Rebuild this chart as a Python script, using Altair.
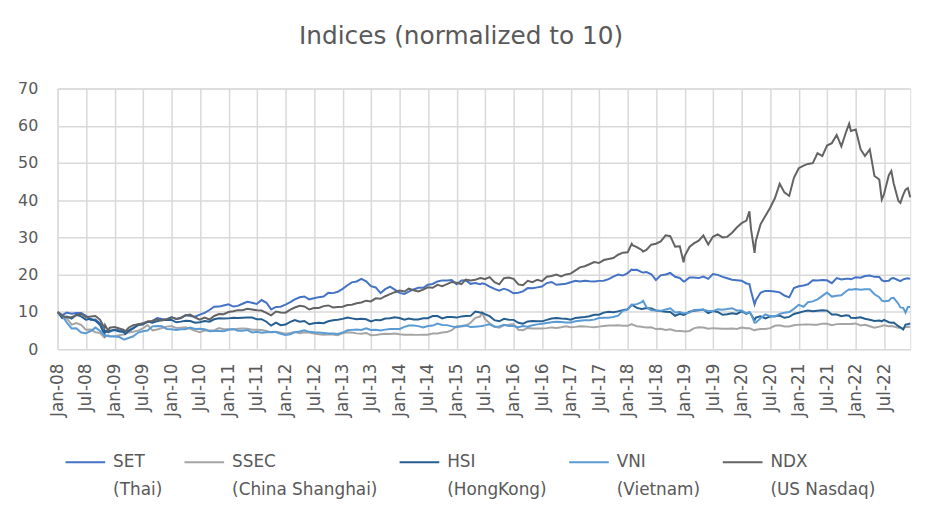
import altair as alt
import pandas as pd

# ---------------- data ----------------
series_names = ["SET|(Thai)", "SSEC|(China Shanghai)", "HSI|(HongKong)", "VNI|(Vietnam)", "NDX|(US Nasdaq)"]
series_colors = ["#4472C4", "#A5A5A5", "#255E91", "#5B9BD5", "#636363"]

month_ends = [d.strftime("%Y-%m-%d") for d in
              (pd.date_range("2008-02-01", "2022-12-01", freq="MS") - pd.Timedelta(days=1))]
dates = ["2008-01-01"] + month_ends + ["2022-12-15"]

SET = [10.0,
       9.14, 9.85, 9.52, 9.70, 9.72, 8.96, 7.88, 7.98, 6.95, 4.85, 4.67, 5.24,
       5.10, 5.03, 5.03, 5.73, 6.53, 6.96, 7.27, 7.61, 8.36, 8.12, 7.96, 8.56,
       8.12, 8.33, 9.18, 8.90, 8.75, 9.29, 9.77, 10.53, 11.43, 11.44, 11.75, 12.04,
       11.45, 11.63, 12.21, 12.74, 12.47, 12.14, 13.21, 12.47, 10.68, 11.36, 11.42, 11.95,
       12.62, 13.39, 13.95, 14.16, 13.37, 13.66, 13.98, 14.17, 15.13, 15.06, 15.43, 16.22,
       17.18, 17.96, 18.19, 18.90, 18.20, 16.92, 16.59, 15.08, 16.12, 16.82, 15.99, 15.13,
       14.85, 15.44, 16.04, 16.49, 16.50, 17.32, 17.51, 18.20, 18.48, 18.46, 18.58, 17.45,
       18.43, 18.49, 17.55, 17.79, 17.44, 17.53, 16.78, 16.18, 15.72, 16.25, 15.80, 15.01,
       15.16, 15.53, 16.41, 16.36, 16.60, 16.84, 17.76, 18.04, 17.29, 17.43, 17.59, 17.98,
       18.38, 18.18, 18.36, 18.25, 18.20, 18.35, 18.37, 18.83, 19.50, 20.06, 19.78, 20.44,
       21.29, 21.33, 20.70, 20.75, 20.13, 18.60, 19.83, 20.06, 20.47, 19.45, 19.13, 18.23,
       19.27, 19.27, 19.10, 19.50, 18.88, 20.17, 19.96, 19.43, 19.07, 18.66, 18.54, 18.41,
       17.65, 15.62, 13.12, 15.17, 15.65, 15.60, 15.48, 15.27, 14.42, 13.93, 16.41, 16.89,
       17.09, 17.44, 18.50, 18.45, 18.57, 18.50, 17.74, 19.10, 18.71, 18.92, 18.77, 19.32,
       19.22, 19.64, 19.76, 19.43, 19.39, 18.28, 18.37, 19.10, 18.52, 18.76, 19.06, 18.88]

SSEC = [10.0,
        8.33, 8.26, 6.60, 7.02, 6.52, 5.20, 5.27, 4.56, 4.36, 3.29, 3.56, 3.46,
        3.78, 3.96, 4.51, 4.71, 5.00, 5.62, 6.49, 5.07, 5.28, 5.69, 6.07, 6.23,
        5.68, 5.80, 5.91, 5.46, 4.93, 4.56, 5.01, 5.02, 5.05, 5.66, 5.36, 5.34,
        5.30, 5.52, 5.56, 5.53, 5.21, 5.25, 5.14, 4.88, 4.48, 4.69, 4.43, 4.18,
        4.36, 4.62, 4.30, 4.56, 4.51, 4.23, 4.00, 3.89, 3.96, 3.93, 3.76, 4.31,
        4.53, 4.50, 4.25, 4.14, 4.37, 3.76, 3.79, 3.99, 4.13, 4.07, 4.22, 4.02,
        3.86, 3.91, 3.86, 3.85, 3.88, 3.89, 4.19, 4.21, 4.49, 4.60, 5.10, 6.15,
        6.10, 6.29, 7.12, 8.44, 8.77, 8.13, 6.96, 6.09, 5.80, 6.43, 6.55, 6.73,
        5.20, 5.11, 5.71, 5.58, 5.54, 5.57, 5.66, 5.86, 5.71, 5.89, 6.18, 5.90,
        6.00, 6.16, 6.13, 6.00, 5.92, 6.07, 6.22, 6.39, 6.37, 6.45, 6.30, 6.29,
        6.62, 6.19, 6.02, 5.86, 5.88, 5.41, 5.47, 5.18, 5.36, 4.95, 4.92, 4.74,
        4.91, 5.59, 5.87, 5.85, 5.51, 5.66, 5.57, 5.49, 5.52, 5.57, 5.46, 5.80,
        5.66, 5.47, 5.23, 5.44, 5.42, 5.67, 6.29, 6.45, 6.12, 6.13, 6.45, 6.60,
        6.62, 6.67, 6.54, 6.55, 6.87, 6.82, 6.46, 6.74, 6.78, 6.74, 6.77, 6.92,
        6.39, 6.58, 6.18, 5.79, 6.06, 6.46, 6.18, 6.09, 5.75, 5.50, 5.99, 6.02]

HSI = [10.0,
       8.43, 8.75, 8.22, 9.26, 8.82, 7.95, 8.17, 7.64, 6.48, 5.02, 4.99, 5.17,
       4.77, 4.61, 4.88, 5.58, 6.53, 6.61, 7.40, 7.09, 7.53, 7.82, 7.85, 7.86,
       7.23, 7.41, 7.64, 7.59, 7.11, 7.24, 7.56, 7.38, 8.04, 8.30, 8.27, 8.28,
       8.43, 8.39, 8.46, 8.53, 8.52, 8.05, 8.07, 7.38, 6.33, 7.14, 6.47, 6.63,
       7.33, 7.80, 7.39, 7.58, 6.70, 6.99, 7.12, 7.00, 7.49, 7.78, 7.92, 8.15,
       8.53, 8.28, 8.02, 8.18, 8.05, 7.48, 7.87, 7.81, 8.22, 8.34, 8.59, 8.38,
       7.92, 8.21, 7.96, 7.96, 8.30, 8.34, 8.90, 8.90, 8.25, 8.63, 8.62, 8.49,
       8.81, 8.93, 8.95, 10.12, 9.86, 9.44, 8.86, 7.79, 7.50, 8.14, 7.91, 7.88,
       7.08, 6.87, 7.47, 7.57, 7.48, 7.48, 7.87, 8.26, 8.38, 8.25, 8.19, 7.91,
       8.40, 8.54, 8.67, 8.85, 9.23, 9.26, 9.82, 10.06, 9.91, 10.16, 10.49, 10.76,
       11.82, 11.09, 10.82, 11.08, 10.96, 10.41, 10.28, 10.03, 9.99, 8.98, 9.53, 9.29,
       10.05, 10.30, 10.45, 10.68, 9.67, 10.26, 9.99, 9.25, 9.38, 9.67, 9.47, 10.14,
       9.46, 9.40, 8.49, 8.86, 8.26, 8.78, 8.84, 9.05, 8.43, 8.67, 9.47, 9.79,
       10.17, 10.42, 10.20, 10.33, 10.48, 10.37, 9.33, 9.30, 8.84, 9.12, 8.44, 8.41,
       8.56, 8.17, 7.91, 7.58, 7.70, 7.86, 7.25, 7.17, 6.19, 5.28, 6.69, 6.96]

VNI = [10.0,
       9.10, 7.15, 5.57, 5.63, 4.47, 4.30, 4.86, 5.81, 4.92, 3.75, 3.39, 3.40,
       3.27, 2.64, 3.02, 3.47, 4.48, 4.83, 5.04, 6.14, 6.26, 6.17, 5.44, 5.34,
       5.19, 5.36, 5.38, 5.85, 5.45, 5.47, 5.35, 4.81, 4.91, 4.89, 4.85, 5.23,
       5.45, 4.97, 4.98, 5.18, 4.49, 4.67, 4.42, 4.55, 4.61, 4.62, 4.15, 3.79,
       4.02, 4.57, 4.77, 5.11, 4.67, 4.55, 4.51, 4.36, 4.23, 4.19, 4.10, 4.47,
       5.08, 5.19, 5.30, 5.15, 5.63, 5.19, 5.25, 5.06, 5.26, 5.43, 5.44, 5.45,
       6.00, 6.34, 6.35, 6.20, 5.86, 6.23, 6.34, 6.87, 6.50, 6.47, 6.13, 5.89,
       6.21, 6.40, 5.94, 6.06, 6.14, 6.40, 6.68, 6.06, 6.13, 6.56, 6.22, 6.25,
       5.88, 6.20, 6.05, 6.43, 6.67, 6.82, 7.04, 7.26, 7.40, 7.28, 7.17, 7.17,
       7.51, 7.67, 7.79, 7.75, 7.95, 8.38, 8.46, 8.45, 8.67, 9.03, 10.30, 10.61,
       11.97, 12.10, 12.66, 11.33, 10.47, 10.36, 10.30, 10.67, 10.97, 9.86, 9.99, 9.63,
       9.82, 10.56, 10.58, 10.57, 10.26, 10.24, 10.72, 10.61, 10.79, 11.02, 10.40, 10.37,
       9.61, 9.49, 7.14, 8.30, 9.33, 8.90, 8.77, 9.49, 9.77, 9.98, 10.83, 11.91,
       11.39, 12.61, 12.85, 13.37, 14.33, 15.20, 14.13, 14.37, 14.48, 15.58, 15.94, 16.16,
       15.94, 16.07, 16.09, 14.75, 13.95, 12.91, 13.01, 13.81, 12.21, 11.11, 11.32, 11.31]

NDX = [10.0,
       9.01, 8.56, 8.59, 9.10, 9.51, 8.65, 8.77, 8.93, 7.89, 6.49, 5.79, 5.95,
       5.57, 5.19, 5.77, 6.47, 6.69, 6.92, 7.46, 7.58, 8.00, 7.71, 8.09, 8.56,
       8.10, 8.44, 9.04, 9.28, 8.51, 7.95, 8.50, 7.97, 8.93, 9.45, 9.42, 10.00,
       10.18, 10.49, 10.49, 10.84, 10.69, 10.46, 10.39, 9.73, 9.11, 10.12, 9.88, 9.82,
       10.61, 11.19, 11.66, 11.49, 10.66, 11.07, 11.09, 11.57, 11.75, 11.23, 11.35, 11.39,
       11.85, 11.92, 12.32, 12.55, 13.03, 12.83, 13.67, 13.54, 14.22, 14.78, 15.31, 15.75,
       15.48, 16.25, 15.83, 15.52, 16.00, 16.62, 16.48, 17.27, 16.94, 17.46, 18.07, 17.86,
       17.48, 18.72, 18.48, 18.63, 19.12, 18.81, 19.34, 18.01, 17.42, 19.06, 19.27, 18.88,
       17.40, 17.19, 18.36, 18.01, 18.66, 18.26, 19.47, 19.66, 20.03, 19.57, 20.08, 20.30,
       21.17, 21.97, 22.29, 22.81, 23.38, 23.15, 23.94, 24.24, 24.50, 25.37, 25.92, 26.03,
       27.95, 27.43, 26.63, 26.65, 28.06, 28.32, 28.93, 30.58, 30.34, 27.55, 27.64, 25.02,
       27.46, 28.41, 29.15, 30.53, 28.10, 30.19, 30.83, 30.03, 30.16, 31.27, 32.68, 33.84,
       34.51, 32.31, 29.04, 33.52, 35.79, 37.93, 40.52, 44.40, 42.11, 41.15, 46.00, 48.60,
       49.29, 49.75, 49.95, 52.65, 51.85, 54.69, 55.33, 57.54, 54.48, 58.44, 58.59, 59.00,
       53.70, 51.86, 53.63, 46.52, 45.56, 41.59, 46.73, 44.56, 39.88, 41.44, 43.25, 40.77]

# intra-month highs / lows visible in the reference
extra_dates = ["2008-10-27", "2008-11-20", "2009-03-09", "2015-06-12", "2018-01-26",
               "2018-04-09", "2018-12-24", "2020-02-19", "2020-03-23", "2021-11-19",
               "2022-06-16", "2022-08-16", "2022-10-13", "2022-11-15"]
SET_extra = [4.51, 4.55, 4.87, 17.70, 21.42, 20.63, 18.18, 17.50, 12.04, 18.91, 18.53, 19.00, 18.30, 18.93]
SSEC_extra = [3.16, 3.71, 4.08, 9.82, 6.76, 5.96, 4.80, 5.65, 5.06, 6.77, 6.24, 6.23, 5.75, 5.96]
HSI_extra = [3.96, 4.61, 4.08, 9.81, 11.92, 10.87, 9.22, 9.94, 7.80, 9.01, 7.49, 7.13, 5.89, 6.60]
VNI_extra = [3.72, 3.56, 2.70, 6.26, 11.87, 12.99, 9.63, 9.98, 7.11, 16.07, 13.05, 13.72, 11.22, 9.83]
NDX_extra = [5.68, 4.96, 4.78, 19.05, 28.30, 26.21, 23.35, 37.02, 25.87, 60.55, 40.15, 47.87, 39.28, 42.83]

# ---------------- build long table ----------------
monthly = [SET, SSEC, HSI, VNI, NDX]
extras = [SET_extra, SSEC_extra, HSI_extra, VNI_extra, NDX_extra]
rows = []
for idx, (name, vals, ext) in enumerate(zip(series_names, monthly, extras)):
    for d, v in zip(dates, vals):
        rows.append({"date": d, "value": v, "series": name, "k": idx})
    for d, v in zip(extra_dates, ext):
        rows.append({"date": d, "value": v, "series": name, "k": idx})
df = pd.DataFrame(rows).sort_values(["k", "date"]).reset_index(drop=True)

FONT = "DejaVu Sans"
TXT = "#595959"
GRID = "#D9D9D9"

chart = alt.Chart(df).mark_line(strokeWidth=2).encode(
    x=alt.X(
        "date:T",
        scale=alt.Scale(
            type="utc",
            domain=[alt.DateTime(year=2008, month=1, date=1, utc=True),
                    alt.DateTime(year=2022, month=12, date=15, utc=True)],
        ),
        axis=alt.Axis(
            title=None, format="%b-%y", tickCount={"interval": "month", "step": 6},
            labelAngle=270, grid=True, gridColor=GRID, gridWidth=1.5,
            ticks=False, domain=False, labelOverlap=False, labelFlush=False,
            labelPadding=14, labelFont=FONT, labelFontSize=17, labelColor=TXT,
        ),
    ),
    y=alt.Y(
        "value:Q",
        scale=alt.Scale(domain=[0, 70], nice=False),
        axis=alt.Axis(
            title=None, values=[0, 10, 20, 30, 40, 50, 60, 70], grid=True,
            gridColor=GRID, gridWidth=1.5, ticks=False, domain=False,
            labelPadding=20, labelFont=FONT, labelFontSize=16, labelColor=TXT,
        ),
    ),
    color=alt.Color(
        "series:N",
        scale=alt.Scale(domain=series_names, range=series_colors),
        legend=alt.Legend(
            title=None, orient="none", legendX=7, legendY=356,
            direction="horizontal", columns=5, symbolType="stroke",
            symbolSize=1600, symbolStrokeWidth=2, labelOffset=7,
            labelExpr="split(datum.label, '|')", labelBaseline="middle",
            labelFont=FONT, labelFontSize=17, labelColor=TXT, labelLimit=300,
            columnPadding=18, padding=0,
        ),
    ),
    order=alt.Order("k:Q"),
).properties(
    width=860,
    height=263,
    title=alt.TitleParams(
        "Indices (normalized to 10)", font=FONT, fontSize=25, fontWeight="normal",
        color=TXT, anchor="middle", dx=-23, offset=12, baseline="alphabetic",
    ),
    autosize=alt.AutoSizeParams(type="none"),
    padding={"left": 50, "top": 79, "right": 24, "bottom": 160},
).configure_view(
    strokeWidth=0
).configure(
    style={"guide-label": {"lineHeight": 28}}
)

chart.save("out.html", embed_options={"renderer": "svg", "actions": False})
